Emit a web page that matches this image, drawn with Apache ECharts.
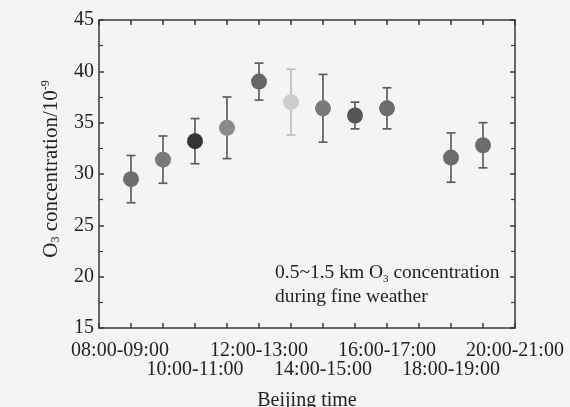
<!DOCTYPE html>
<html lang="en">
<head>
    <meta charset="UTF-8">
    <title>O3 concentration</title>
    <style>
        html, body { margin: 0; padding: 0; background: #f4f4f3; }
        #chart { width: 570px; height: 407px; }
    </style>
    <script src="https://cdn.jsdelivr.net/npm/echarts@6/dist/echarts.min.js"></script>
</head>
<body>
<div id="chart"></div>
<script>
    // hourly categories (07:00-08:00 is just the left edge, no data)
    var hours = ['07:00-08:00', '08:00-09:00', '09:00-10:00', '10:00-11:00', '11:00-12:00',
        '12:00-13:00', '13:00-14:00', '14:00-15:00', '15:00-16:00', '16:00-17:00',
        '17:00-18:00', '18:00-19:00', '19:00-20:00', '20:00-21:00'];
    // mean O3 values, '-' where no point
    var meanO3 = ['-', 29.5, 31.4, 33.2, 34.5, 39.0, 37.0, 36.4, 35.7, 36.4, '-', 31.6, 32.8, '-'];
    // half length of the error bars
    var errO3 = [0, 2.3, 2.3, 2.2, 3.0, 1.8, 3.2, 3.3, 1.3, 2.0, 0, 2.4, 2.2, 0];
    // marker shades
    var dotColors = ['', '#6e6e6e', '#7a7a7a', '#333333', '#8a8a8a', '#666666', '#cdcdcd',
        '#7a7a7a', '#555555', '#6c6c6c', '', '#6c6c6c', '#6c6c6c', ''];

    var serif = 'Liberation Serif';
    var axisColor = '#3a3a3a';
    var textColor = '#222';

    var points = [];
    var bars = [];
    for (var i = 0; i < hours.length; i++) {
        if (meanO3[i] === '-') continue;
        points.push({ value: [i, meanO3[i]], itemStyle: { color: dotColors[i] } });
        bars.push([i, meanO3[i] - errO3[i], meanO3[i] + errO3[i], i === 6 ? '#bdbdbd' : '#5e5e5e']);
    }

    // bottom labels are staggered on two rows
    function labelAxis(row, margin) {
        return {
            type: 'category',
            data: hours,
            boundaryGap: false,
            position: 'bottom',
            axisLine: { show: false },
            axisTick: { show: false },
            axisLabel: {
                interval: function (idx) { return idx % 4 === row; },
                formatter: function (v, idx) { return idx === 1 ? '{f|' + v + '}' : v; },
                rich: {
                    f: { fontFamily: serif, fontSize: 20, color: textColor, padding: [0, 22, 0, 0] }
                },
                hideOverlap: false,
                fontFamily: serif, fontSize: 20, color: textColor, margin: margin
            },
            splitLine: { show: false }
        };
    }

    var chart = echarts.init(document.getElementById('chart'));
    chart.setOption({
        backgroundColor: '#f4f4f3',
        animation: false,
        grid: { left: 99, right: 55, top: 20, bottom: 79, outerBoundsMode: 'none', containLabel: false },
        xAxis: [{
            type: 'category',
            data: hours,
            boundaryGap: false,
            position: 'bottom',
            name: 'Beijing time',
            nameLocation: 'middle',
            nameGap: 63,
            nameTextStyle: { fontFamily: serif, fontSize: 20, color: textColor },
            axisLine: { lineStyle: { color: axisColor, width: 1.5 } },
            axisTick: { inside: true, length: 5, interval: 0, lineStyle: { color: axisColor, width: 1.5 } },
            axisLabel: { show: false },
            splitLine: { show: false }
        }, {
            type: 'category',
            data: hours,
            boundaryGap: false,
            position: 'top',
            axisLine: { lineStyle: { color: axisColor, width: 1.5 } },
            axisTick: { inside: true, length: 5, interval: 0, lineStyle: { color: axisColor, width: 1.5 } },
            axisLabel: { show: false }
        },
            labelAxis(1, 13),
            labelAxis(3, 32)
        ],
        yAxis: [{
            type: 'value',
            min: 15, max: 45, interval: 5,
            name: '{a|O}{sub|3}{a| concentration/10}{sup|-9}',
            nameLocation: 'middle',
            nameGap: 37,
            nameTextStyle: {
                padding: [0, 0, 0, 10],
                rich: {
                    a: { fontFamily: serif, fontSize: 21, color: textColor, lineHeight: 22 },
                    sub: { fontFamily: serif, fontSize: 12, color: textColor, verticalAlign: 'bottom', lineHeight: 22 },
                    sup: { fontFamily: serif, fontSize: 12, color: textColor, verticalAlign: 'top', lineHeight: 22 }
                }
            },
            axisLine: { show: true, lineStyle: { color: axisColor, width: 1.5 } },
            axisTick: { show: true, inside: true, length: 5, lineStyle: { color: axisColor, width: 1.5 } },
            minorTick: { show: true, splitNumber: 2, length: 4, lineStyle: { color: axisColor, width: 1.2 } },
            axisLabel: { fontFamily: serif, fontSize: 20, color: textColor, margin: 5 },
            splitLine: { show: false }
        }, {
            type: 'value',
            min: 15, max: 45, interval: 5,
            position: 'right',
            axisLine: { show: true, lineStyle: { color: axisColor, width: 1.5 } },
            axisTick: { show: true, inside: true, length: 5, lineStyle: { color: axisColor, width: 1.5 } },
            minorTick: { show: true, splitNumber: 2, length: 4, lineStyle: { color: axisColor, width: 1.2 } },
            axisLabel: { show: false },
            splitLine: { show: false }
        }],
        series: [{
            type: 'custom',
            z: 2,
            renderItem: function (params, api) {
                var x = api.value(0);
                var lo = api.coord([x, api.value(1)]);
                var hi = api.coord([x, api.value(2)]);
                var c = bars[params.dataIndex][3];
                var st = { stroke: c, lineWidth: 1.7 };
                var cap = 4.5;
                return {
                    type: 'group',
                    children: [
                        { type: 'line', shape: { x1: lo[0], y1: lo[1], x2: hi[0], y2: hi[1] }, style: st },
                        { type: 'line', shape: { x1: lo[0] - cap, y1: lo[1], x2: lo[0] + cap, y2: lo[1] }, style: st },
                        { type: 'line', shape: { x1: hi[0] - cap, y1: hi[1], x2: hi[0] + cap, y2: hi[1] }, style: st }
                    ]
                };
            },
            encode: { x: 0, y: [1, 2] },
            data: bars
        }, {
            type: 'scatter',
            z: 3,
            symbolSize: 16,
            itemStyle: { opacity: 1 },
            data: points
        }],
        graphic: [{
            type: 'text',
            left: 275,
            top: 263,
            style: {
                text: '{a|0.5~1.5 km O}{sub|3}{a| concentration}\n{a|during fine weather}',
                rich: {
                    a: { fontFamily: serif, fontSize: 19.5, fill: textColor, lineHeight: 24 },
                    sub: { fontFamily: serif, fontSize: 11, fill: textColor, verticalAlign: 'bottom', lineHeight: 21 }
                }
            }
        }]
    });
</script>
</body>
</html>
